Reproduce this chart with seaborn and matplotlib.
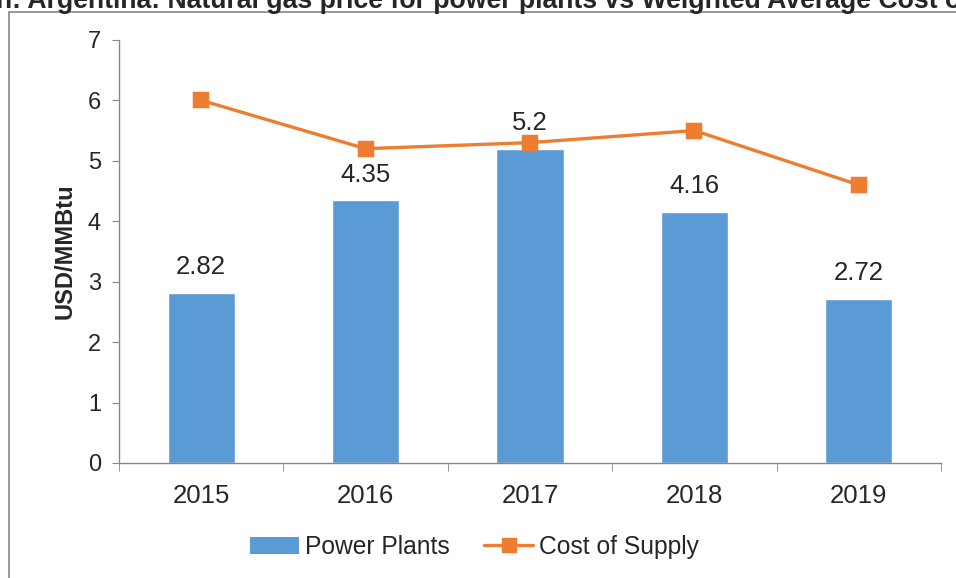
import matplotlib
matplotlib.use("Agg")
import matplotlib.pyplot as plt
from matplotlib.patches import Rectangle, Patch
from matplotlib.lines import Line2D
import seaborn as sns
import pandas as pd

years = ["2015", "2016", "2017", "2018", "2019"]
power_plants = [2.82, 4.35, 5.2, 4.16, 2.72]
cost_of_supply = [6.0, 5.2, 5.3, 5.5, 4.6]

bar_color = "#5B9BD5"
line_color = "#ED7D31"
grey = "#868686"

sns.set_style("white")
plt.rcParams["font.family"] = ["Liberation Sans", "DejaVu Sans"]

df = pd.DataFrame({"year": years, "pp": power_plants, "cos": cost_of_supply})

fig = plt.figure(figsize=(9.56, 5.78), dpi=100)
ax = fig.add_axes([0.1245, 0.199, 0.8598, 0.732])

sns.barplot(data=df, x="year", y="pp", color=bar_color, width=0.41,
            saturation=1, ax=ax, zorder=2)
sns.pointplot(data=df, x="year", y="cos", color=line_color, markers="s",
              markersize=9.5, linewidth=2.4, ax=ax, zorder=3)

# value labels over the bars
for i, v in enumerate(power_plants):
    ax.text(i, v + 0.42, f"{v:g}", ha="center", va="center", fontsize=18.5)

ax.set_ylim(0, 7)
ax.set_xlim(-0.5, 4.5)
ax.set_yticks(range(0, 8))
ax.tick_params(axis="y", labelsize=17, length=5, color=grey, direction="out",
               left=True, pad=8)
ax.tick_params(axis="x", labelsize=18.5, length=0, pad=15)
# excel-style tick marks between categories
ax.set_xticks([i - 0.5 for i in range(6)], minor=True)
ax.tick_params(axis="x", which="minor", length=6, color=grey, bottom=True,
               direction="out")
for s in ["top", "right"]:
    ax.spines[s].set_visible(False)
for s in ["left", "bottom"]:
    ax.spines[s].set_color(grey)
    ax.spines[s].set_linewidth(1)
ax.set_xlabel("")
ax.set_ylabel("USD/MMBtu", fontsize=17, fontweight="bold", labelpad=8)

handles = [Patch(facecolor=bar_color, edgecolor="none", label="Power Plants"),
           Line2D([0], [0], color=line_color, lw=2.4, marker="s",
                  markersize=9.5, label="Cost of Supply")]
fig.legend(handles=handles, loc="center", bbox_to_anchor=(0.4963, 0.054),
           ncol=2, frameon=False, fontsize=17.7, handlelength=2.0,
           handletextpad=0.25, columnspacing=1.4)

# outer frame of the chart area (cut by the picture edges)
fig.patches.append(Rectangle((9 / 956, -0.1), 1.2, 1 - 12 / 578 + 0.1,
                             transform=fig.transFigure, fill=False,
                             edgecolor=grey, linewidth=1.2))

fig.text(-0.004, 1 - 8 / 578, "n: Argentina: Natural gas price for power plants vs Weighted Average Cost of Supply",
         ha="left", va="baseline", fontsize=19.2, fontweight="bold")

fig.savefig("out.png", dpi=100)
